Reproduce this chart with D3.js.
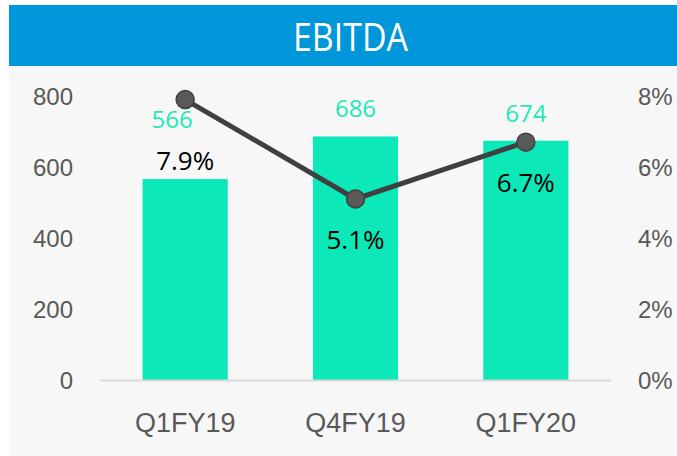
<!DOCTYPE html>
<html>
<head>
<meta charset="utf-8">
<script src="https://cdn.jsdelivr.net/npm/d3@7"></script>
<style>
  body { margin: 0; background: #fff; }
  svg { display: block; font-family: "Open Sans", sans-serif; }
</style>
</head>
<body>
<svg></svg>
<script>
var categories = ["Q1FY19", "Q4FY19", "Q1FY20"]
var ebitda = [566, 686, 674]
var margin = [7.9, 5.1, 6.7]
var leftTicks = [0, 200, 400, 600, 800]
var rightTicks = [0, 2, 4, 6, 8]

function main(){
    var width = 677
    var height = 456
    var svg = d3.select('svg')
    svg.attr("width", width).attr("height", height)

    // panel + title bar
    svg.append("rect").attr("x", 9).attr("y", 66).attr("width", width - 9).attr("height", height - 66).attr("fill", "#f7f7f7")
    svg.append("rect").attr("x", 9).attr("y", 5).attr("width", width - 9).attr("height", 61).attr("fill", "#0096da")
    svg.append("text").attr("x", 293).attr("y", 50.5)
        .attr("textLength", 115).attr("lengthAdjust", "spacingAndGlyphs")
        .attr("fill", "#fff").style("font-size", "39px").text("EBITDA")

    var xScale = d3.scaleBand()
                    .domain(categories)
                    .range([100, 611])
                    .paddingInner(0.5)
                    .paddingOuter(0.25)
    var yLeft = d3.scaleLinear().domain([0, 800]).range([380, 96])
    var yRight = d3.scaleLinear().domain([0, 8]).range([380, 96])

    var leftAxis = d3.axisLeft(yLeft).tickValues(leftTicks).tickSize(0).tickPadding(0)
    svg.append("g").attr("class", "axis").attr("transform", "translate(73,0)").call(leftAxis)
    var rightAxis = d3.axisRight(yRight).tickValues(rightTicks).tickSize(0).tickPadding(0).tickFormat(d => d + "%")
    svg.append("g").attr("class", "axis").attr("transform", "translate(638,0)").call(rightAxis)
    svg.selectAll(".axis .domain").remove()
    svg.selectAll(".axis text").attr("fill", "#595959").attr("dy", "0.36em").style("font-size", "24px")

    var bars = categories.map((c, i) => ({cat: c, value: ebitda[i], pct: margin[i]}))

    svg.selectAll('rect.bar')
        .data(bars)
        .join("rect")
        .attr("class", "bar")
        .attr("x", d => xScale(d.cat))
        .attr("y", d => yLeft(d.value))
        .attr("width", xScale.bandwidth())
        .attr("height", d => yLeft(0) - yLeft(d.value))
        .attr("fill", "#0de8b8")

    // baseline
    svg.append("line").attr("x1", 100).attr("x2", 611).attr("y1", 380.5).attr("y2", 380.5)
        .attr("stroke", "#d9d9d9").attr("stroke-width", 2)

    // category labels
    var xAxis = d3.axisBottom(xScale).tickSize(0).tickPadding(0)
    var gx = svg.append("g").attr("transform", "translate(0,432)").call(xAxis)
    gx.select(".domain").remove()
    gx.selectAll("text").attr("fill", "#595959").attr("dy", "0").style("font-size", "27px")

    var cx = d => xScale(d.cat) + xScale.bandwidth() / 2
    var line = d3.line().x(cx).y(d => yRight(d.pct))
    svg.append("path").datum(bars).attr("d", line)
        .attr("fill", "none").attr("stroke", "#404040").attr("stroke-width", 5)
    svg.selectAll("circle.pt").data(bars).join("circle").attr("class", "pt")
        .attr("cx", cx).attr("cy", d => yRight(d.pct)).attr("r", 9)
        .attr("fill", "#595959").attr("stroke", "#404040").attr("stroke-width", 1.5)

    // data labels: bar value goes above the bar, or tucked under-left of the marker if the line is above it
    var lineAbove = d => yRight(d.pct) + 28 < yLeft(d.value) - 19
    svg.selectAll("text.val").data(bars).join("text").attr("class", "val")
        .attr("x", d => cx(d) - (lineAbove(d) ? 13 : 0))
        .attr("y", d => lineAbove(d) ? yRight(d.pct) + 28 : yLeft(d.value) - 19)
        .attr("text-anchor", "middle").attr("fill", "#1de9b6").style("font-size", "24px")
        .text(d => d.value)
    svg.selectAll("text.pct").data(bars).join("text").attr("class", "pct")
        .attr("x", cx)
        .attr("y", d => Math.max(yRight(d.pct) + 50, yLeft(d.value) - 9))
        .attr("text-anchor", "middle").attr("fill", "#000").style("font-size", "26px")
        .text(d => d.pct.toFixed(1) + "%")
}
main()
</script>
</body>
</html>
